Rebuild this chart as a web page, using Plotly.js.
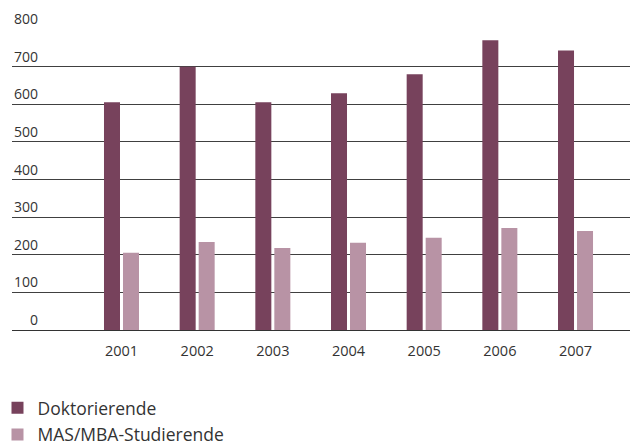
<!DOCTYPE html>
<html>
<head>
<meta charset="utf-8">
<script src="https://cdn.plot.ly/plotly-3.0.1.min.js"></script>
<style>html,body{margin:0;padding:0;background:#fff;}#chart{width:630px;height:448px;}</style>
</head>
<body>
<div id="chart"></div>
<script>
const years = [2001, 2002, 2003, 2004, 2005, 2006, 2007];
const yearLabels = ['2001', '2002', '2003', '2004', '2005', '2006', '2007'];
const doktorierende = [605, 700, 605, 629, 680, 770, 743];
const masMba = [205, 234, 218, 232, 245, 271, 263];
const seriesNames = ['Doktorierende', 'MAS/MBA-Studierende'];
const yTicks = [0, 100, 200, 300, 400, 500, 600, 700, 800];

const font = 'Open Sans, Noto Sans, sans-serif';
const txt = '#333333';

const traces = [
  {
    type: 'bar', x: years, y: doktorierende, name: seriesNames[0],
    marker: {color: '#77425C', line: {width: 0}},
    width: 0.2115, offset: -0.2313, legendgroup: 'a', hoverinfo: 'none'
  },
  {
    type: 'bar', x: years, y: masMba, name: seriesNames[1],
    marker: {color: '#B893A5', line: {width: 0}},
    width: 0.2115, offset: 0.0198, legendgroup: 'b', hoverinfo: 'none'
  },
  {
    type: 'scatter', x: [years[0]], y: [0], yaxis: 'y2', mode: 'none',
    showlegend: false, hoverinfo: 'none'
  }
];

const layout = {
  width: 630, height: 448,
  margin: {l: 12, r: 0, t: 28.6, b: 117.7, pad: 0, autoexpand: false},
  paper_bgcolor: '#fff', plot_bgcolor: '#fff',
  font: {family: font, color: txt, size: 14},
  barmode: 'overlay',
  showlegend: true,
  legend: {
    x: -0.017, xanchor: 'left', y: -0.408, yanchor: 'bottom',
    orientation: 'v', traceorder: 'grouped', tracegroupgap: 1,
    indentation: -4,
    font: {family: font, size: 17.5, color: txt},
    bgcolor: 'rgba(0,0,0,0)', itemwidth: 30
  },
  xaxis: {
    type: 'linear', range: [1999.553, 2007.72],
    tickvals: years, ticktext: yearLabels,
    showgrid: false, zeroline: false, showline: false, ticks: '',
    tickfont: {family: font, size: 14.5, color: txt},
    ticklabelstandoff: 10, fixedrange: true
  },
  yaxis: {
    range: [0, 800], tickvals: yTicks, showticklabels: false,
    showgrid: true, gridcolor: '#404040', gridwidth: 1,
    zeroline: true, zerolinecolor: '#333333', zerolinewidth: 1,
    showline: false, ticks: '', fixedrange: true
  },
  yaxis2: {
    overlaying: 'y', anchor: 'free', position: 0.042, side: 'left',
    range: [0, 800], tickvals: yTicks, ticktext: yTicks.map(String),
    showgrid: false, zeroline: false, showline: false, ticks: '',
    ticklabelposition: 'outside top',
    tickfont: {family: font, size: 14, color: txt}, fixedrange: true
  }
};

Plotly.newPlot('chart', traces, layout, {displayModeBar: false, staticPlot: true});
</script>
</body>
</html>
